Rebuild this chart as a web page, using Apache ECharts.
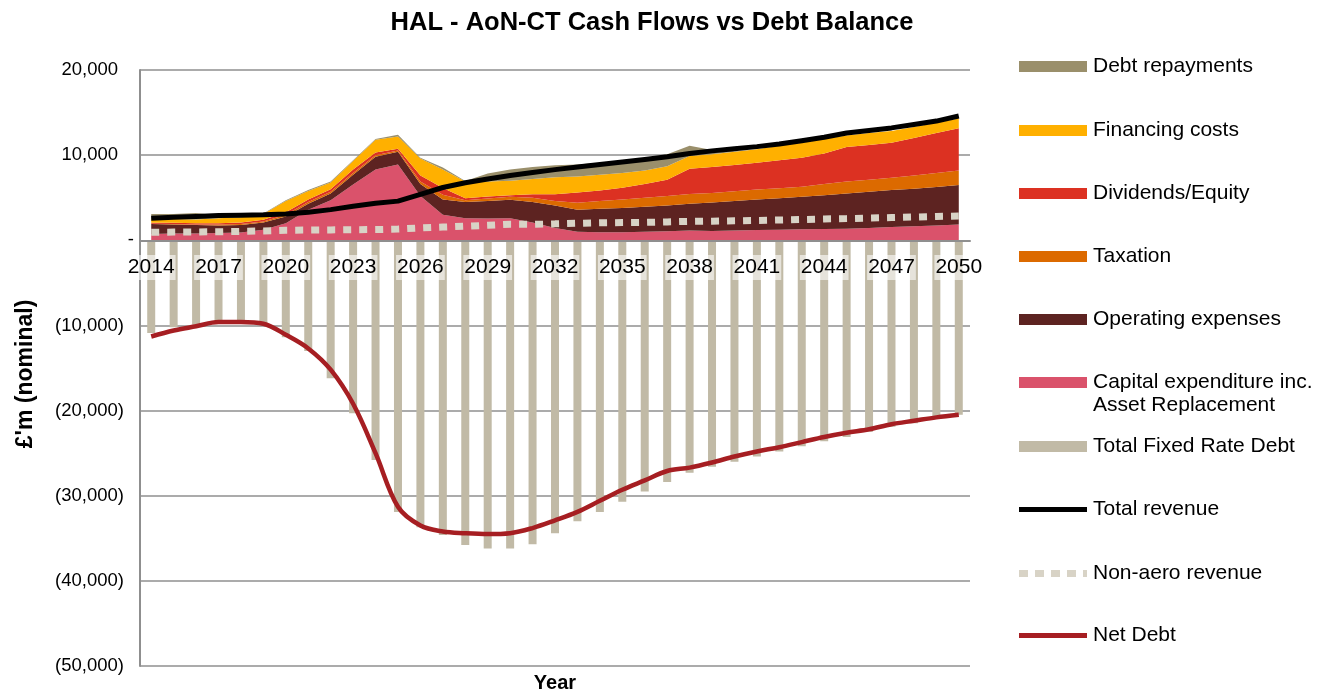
<!DOCTYPE html>
<html>
<head>
<meta charset="utf-8">
<script src="https://cdn.jsdelivr.net/npm/echarts/dist/echarts.min.js"></script>
<style>html,body{margin:0;padding:0;background:#fff}#c{width:1334px;height:695px}</style>
</head>
<body>
<div id="c"></div>
<script>
// ---- DATA (£m, nominal) ----
const years = ['2014','2015','2016','2017','2018','2019','2020','2021','2022','2023','2024','2025','2026','2027','2028','2029','2030','2031','2032','2033','2034','2035','2036','2037','2038','2039','2040','2041','2042','2043','2044','2045','2046','2047','2048','2049','2050'];
const capex = [750,800,800,870,900,1250,2000,3600,4700,6550,8300,8900,5200,3000,2600,2550,2600,2100,1450,1000,950,950,1000,1070,1150,1100,1150,1200,1250,1300,1320,1350,1450,1550,1650,1750,1850];
const opex = [1150,1050,1000,880,900,850,800,700,800,1150,1500,1500,1400,1800,1900,2050,2150,2400,2650,2600,2750,2850,2950,3030,3150,3350,3450,3600,3700,3800,3980,4150,4250,4350,4400,4500,4650];
const taxation = [50,50,50,100,100,100,200,200,200,200,200,150,300,550,200,300,350,500,500,800,900,1000,1050,1100,1150,1100,1150,1160,1150,1180,1300,1400,1400,1450,1550,1650,1700];
const dividends = [100,150,150,150,200,200,300,300,300,400,300,200,700,800,250,250,200,400,800,1200,1250,1360,1600,1900,2950,3050,3100,3140,3300,3420,3600,4050,4100,4100,4400,4700,4950];
const financing = [450,450,450,600,600,700,1300,1000,800,1000,1500,1450,2000,2150,1950,1750,1700,1800,2000,1900,1850,1740,1600,1600,1500,1500,1550,1600,1700,1760,1700,1350,1400,1400,1300,1200,1150];
const debtRepayments = [600,600,750,300,250,50,100,100,100,100,100,200,100,250,50,950,1300,1400,1400,1400,1400,1400,1400,1400,1200,500,50,0,0,0,0,0,0,0,0,0,0];
const fixedRateDebt = [-10900,-10200,-9900,-9700,-9700,-9900,-11400,-13000,-16200,-20300,-25800,-31900,-33700,-34600,-35800,-36200,-36200,-35700,-34400,-33000,-31900,-30700,-29500,-28400,-27300,-26600,-26000,-25400,-24800,-24200,-23600,-23100,-22500,-21900,-21500,-20900,-20500];
const totalRevenue = [2600,2700,2800,2900,2950,3000,3100,3300,3600,4000,4350,4600,5400,6200,6750,7200,7600,7950,8300,8600,8900,9200,9500,9800,10200,10500,10750,11000,11300,11700,12100,12600,12900,13200,13600,14000,14600];
const nonAeroRevenue = [940,960,980,1000,1050,1100,1180,1200,1220,1240,1260,1320,1450,1550,1650,1760,1880,1870,1930,2000,2050,2080,2100,2160,2220,2250,2290,2330,2380,2440,2500,2550,2610,2670,2730,2800,2850];
const netDebt = [-11300,-10600,-10100,-9600,-9600,-9800,-11100,-12700,-15200,-19200,-25000,-31300,-33500,-34200,-34400,-34500,-34400,-33800,-32900,-31900,-30600,-29300,-28200,-27100,-26700,-26100,-25400,-24800,-24300,-23700,-23100,-22600,-22200,-21600,-21200,-20800,-20500];
const yTicks = {min: -50000, max: 20000, step: 10000};
const legendNames = ['Debt repayments','Financing costs','Dividends/Equity','Taxation','Operating expenses','Capital expenditure inc. Asset Replacement','Total Fixed Rate Debt','Total revenue','Non-aero revenue','Net Debt'];
const titleText = 'HAL - AoN-CT Cash Flows vs Debt Balance';

// ---- STYLE ----
const FONT = '"Liberation Sans", Arial, Helvetica, sans-serif';
const C = {
  debt: '#9a8f6b', fin: '#ffb000', div: '#dc3122', tax: '#dc6a00', opex: '#5d2321', capex: '#da526b',
  bars: '#c1baa6', rev: '#000000', nonaero: '#d8d3c6', net: '#a61e22', grid: '#8f8f8f'
};

function fmt(v){ return Math.abs(v).toLocaleString('en-US'); }
function yLabel(v){
  if (v === 0) return '{z|-}';
  if (v < 0) return '{n|(' + fmt(v) + ')}';
  return '{p|' + fmt(v) + '}';
}

function area(name, data, color){
  return {type:'line', name, data, stack:'cf', symbol:'none', z:2,
    lineStyle:{width:0}, itemStyle:{color}, areaStyle:{color, opacity:1}};
}

const series = [
  {type:'bar', name:'Total Fixed Rate Debt', data: fixedRateDebt, barWidth: 8, z:1, itemStyle:{color:C.bars}},
  area('Capital expenditure inc. Asset Replacement', capex, C.capex),
  area('Operating expenses', opex, C.opex),
  area('Taxation', taxation, C.tax),
  area('Dividends/Equity', dividends, C.div),
  area('Financing costs', financing, C.fin),
  area('Debt repayments', debtRepayments, C.debt),
  {type:'line', name:'Non-aero revenue', data: nonAeroRevenue, symbol:'none', z:4,
    itemStyle:{color:C.nonaero}, lineStyle:{color:C.nonaero, width:7, type:[8,8], cap:'butt'}},
  {type:'line', name:'Total revenue', data: totalRevenue, symbol:'none', z:5,
    itemStyle:{color:C.rev}, lineStyle:{color:C.rev, width:5}},
  {type:'line', name:'Net Debt', data: netDebt, symbol:'none', smooth:0.35, z:5,
    itemStyle:{color:C.net}, lineStyle:{color:C.net, width:4.5}}
];

// legend: one component per entry so the spacing matches the reference
const legendCenters = [65,129,192,255,318,381,445,508,572,634];
const dottedIcon = 'path://M0,0h9v7h-9z M16,0h9v7h-9z M32,0h9v7h-9z M48,0h9v7h-9z M64,0h4v7h-4z';
const legends = legendNames.map((name, i) => {
  let icon = 'rect', h = 11;
  if (name === 'Total revenue' || name === 'Net Debt') { h = 5; }
  if (name === 'Non-aero revenue') { icon = dottedIcon; h = 7; }
  const lg = {
    left: 1019, top: legendCenters[i] - 9, padding: 0,
    itemWidth: 68, itemHeight: h, selectedMode: false,
    textStyle: {fontSize: 21, color:'#000', fontFamily: FONT, padding:[0,0,0,1]},
    data: [{name, icon}]
  };
  if (name.indexOf('Capital expenditure') === 0) lg.formatter = () => 'Capital expenditure inc.';
  return lg;
});

const option = {
  animation: false,
  backgroundColor: '#fff',
  textStyle: {fontFamily: FONT},
  grid: {left: 140, right: 364, top: 70, bottom: 29, containLabel: false, outerBoundsMode: 'none'},
  legend: legends,
  xAxis: {
    type: 'category', data: years, boundaryGap: true, z: 10,
    axisLine: {onZero: true, lineStyle: {color: C.grid, width: 2}},
    axisTick: {show: false},
    splitLine: {show: false},
    axisLabel: {interval: 2, fontSize: 21, color: '#000', fontFamily: FONT, margin: -411,
      backgroundColor: 'rgba(255,255,255,0.6)', padding: [2, 1, 2, 1]}
  },
  yAxis: {
    type: 'value', min: yTicks.min, max: yTicks.max, interval: yTicks.step,
    axisLine: {show: true, lineStyle: {color: C.grid, width: 2}},
    axisTick: {show: false},
    splitLine: {show: true, lineStyle: {color: C.grid, width: 1.5}},
    axisLabel: {
      formatter: yLabel, margin: 6, color:'#000',
      rich: {
        p: {fontSize: 18.5, fontFamily: FONT, color:'#000', padding:[0,16,0,0]},
        n: {fontSize: 18.5, fontFamily: FONT, color:'#000', padding:[0,10,0,0]},
        z: {fontSize: 18.5, fontFamily: FONT, color:'#000', padding:[0,0,0,0]}
      }
    },
    name: "£'m (nominal)", nameLocation: 'middle', nameGap: 103,
    nameTextStyle: {fontWeight: 'bold', fontSize: 23, color: '#000', fontFamily: FONT, padding:[0,12,0,0]}
  },
  graphic: [
    {type:'text', x: 652, y: 23, style:{text: titleText, font: 'bold 25.5px ' + FONT, fill:'#000', align:'center', verticalAlign:'middle'}},
    {type:'text', x: 555, y: 683, style:{text: 'Year', font: 'bold 20px ' + FONT, fill:'#000', align:'center', verticalAlign:'middle'}},
    {type:'text', x: 1093, y: 405, style:{text: 'Asset Replacement', font: '21px ' + FONT, fill:'#000', align:'left', verticalAlign:'middle'}}
  ],
  series
};

const chart = echarts.init(document.getElementById('c'), null, {renderer: 'canvas'});
chart.setOption(option);
</script>
</body>
</html>
